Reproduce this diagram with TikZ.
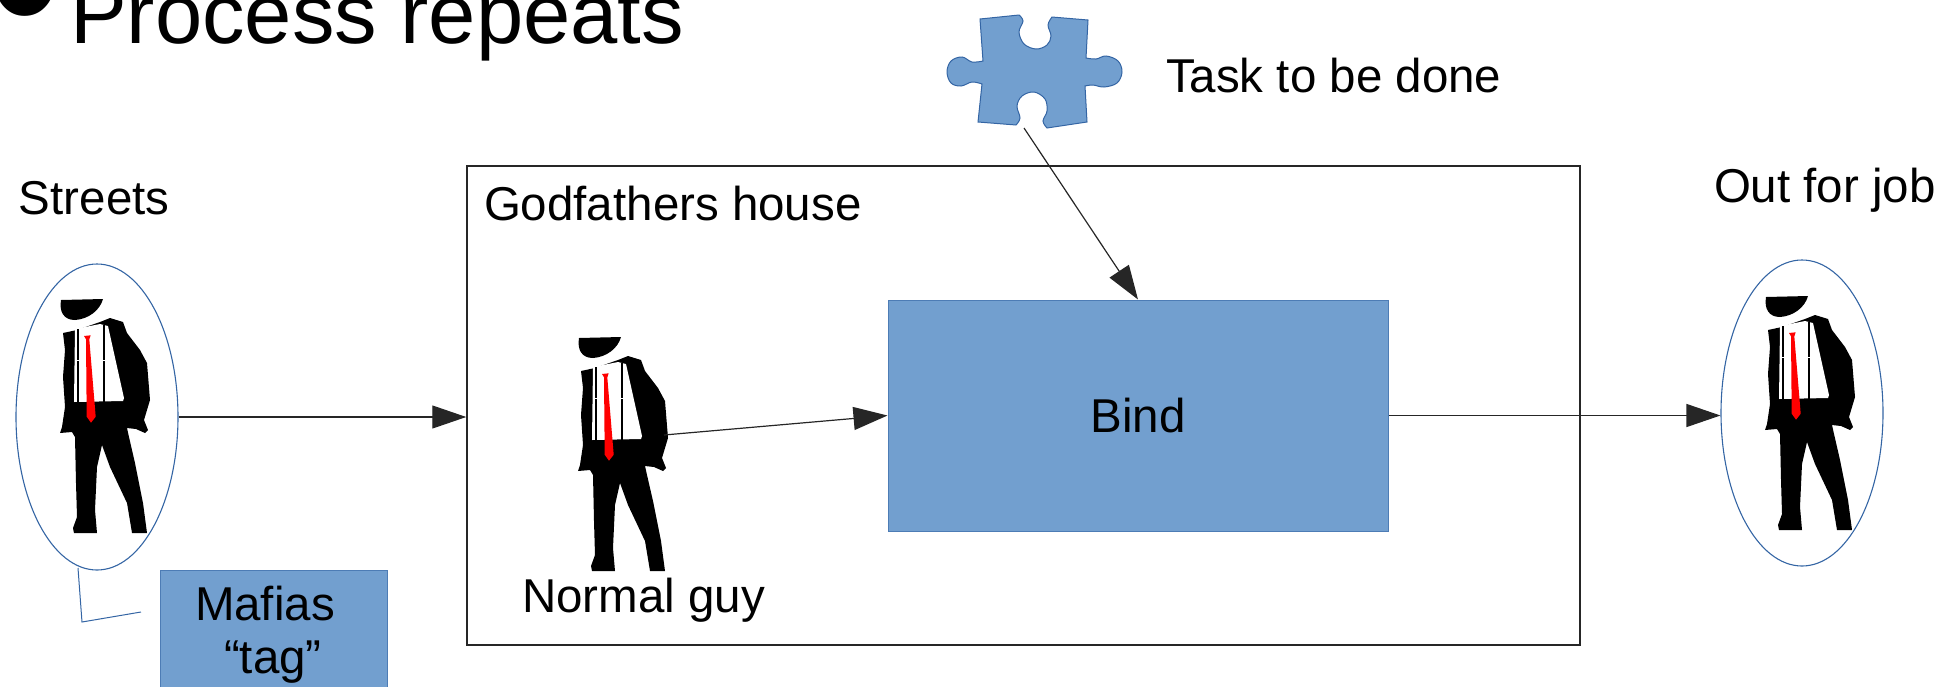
\documentclass[tikz,border=0pt]{standalone}
\usepackage{fontspec}
\setmainfont{Liberation Sans}
\usetikzlibrary{arrows.meta,shapes.geometric,calc}
\definecolor{paleblue}{HTML}{729FCF}
\definecolor{edgeblue}{HTML}{3465A4}
\begin{document}
\begin{tikzpicture}[x=1pt,y=-1pt,
  lbl/.style={font=\fontsize{47.5}{57}\selectfont, inner sep=0pt, outer sep=0pt, anchor=base west},
  conn/.style={line width=1.2pt, draw=black!85, -{Triangle[length=34pt,width=23pt]}},
  blob/.style={ellipse, draw=edgeblue, line width=1.1pt, minimum width=162pt, minimum height=306pt, inner sep=0pt},
  bluebox/.style={rectangle, fill=paleblue, draw=edgeblue!60!paleblue, line width=1pt, inner sep=0pt},
  housebox/.style={rectangle, draw=black!85, line width=1.5pt, inner sep=0pt},
  mafioso/.pic={
    % hat
    \fill[black] (1,0) -- (43,-1) .. controls (40,10) and (29,19) .. (15,20)
      .. controls (4,20) and (-1,12) .. (1,0) -- cycle;
    % suit silhouette
    \fill[black] (3,33) -- (5,50) -- (3,77) -- (5,107) -- (2,127) -- (0,133) -- (12,132)
      -- (15,137) -- (16,183) -- (17,217) -- (13,228) -- (14,233) -- (37,233) -- (35,210)
      -- (37,167) -- (42,145) -- (50,167) -- (67,203) -- (72,233) -- (87,233) -- (83,203)
      -- (75,163) -- (69,137) -- (67,128) -- (76,129) -- (85,133) -- (88,130) -- (84,120)
      -- (90,100) -- (87,63) -- (80,50) -- (67,33) -- (63,22) -- (50,18) -- (40,22)
      -- (17,30) -- cycle;
    % shirt
    \fill[white] (15,29) -- (40,24) -- (48,26) -- (64,98) -- (63,101) -- (14,102) -- cycle;
    % suspenders
    \fill[black] (17.3,29) rectangle (19.3,102);
    \fill[black] (43,25) rectangle (45,102);
    \fill[white] (15,59.5) rectangle (47,61);
    % tie
    \fill[red] (24,36) -- (30.7,35.3) -- (29.3,39.3) -- (35.7,116.7) -- (31,122.7)
      -- (26.7,116.7) -- (26,39.3) -- cycle;
  }
]
\useasboundingbox (0,0) rectangle (1954,686);

% heading
\node[lbl, font=\fontsize{210}{210}\selectfont] (bullet) at (-11,57) {•};
\node[lbl, font=\fontsize{85}{100}\selectfont] (title) at (70,43) {Process repeats};

% places
\node[blob] (streets) at (97,417) {};
\node[blob] (out) at (1802,413) {};
\node[housebox, minimum width=1113pt, minimum height=479pt] (house) at (1023.5,405.5) {};
\node[bluebox, minimum width=500pt, minimum height=231pt,
      font=\fontsize{47.5}{57}\selectfont] (bind) at (1138,415.5) {Bind};
\node[bluebox, minimum width=227pt, minimum height=160pt] (tag) at (273.5,650) {};

% people
\pic at (60,300) {mafioso};
\pic at (578,338) {mafioso};
\pic at (1765,297) {mafioso};

% puzzle piece
\filldraw[fill=paleblue, draw=edgeblue, line width=1pt]
  (980,19) -- plot[smooth, tension=0.6] coordinates {(1019,15) (1023,21) (1019,32) (1024,44) (1036,49) (1047,45) (1051,36) (1048,25) (1052,17)}
  -- (1088,20) -- (1086,58)
  -- plot[smooth, tension=0.6] coordinates {(1086,58) (1096,59) (1106,56) (1118,61) (1122,72) (1117,83) (1104,87) (1093,85) (1085,86)}
  -- (1087,122)
  -- plot[smooth, tension=0.6] coordinates {(1047,128) (1043,121) (1047,111) (1045,99) (1034,92) (1022,96) (1017,106) (1020,118) (1016,125)}
  -- (978,122)
  -- plot[smooth, tension=0.6] coordinates {(982,84) (972,82) (961,86) (951,83) (947,72) (951,61) (962,57) (972,62) (983,61)}
  -- cycle;
\coordinate (piece) at (1024,128);

% labels
\node[lbl] (streetslbl) at (19,214) {Streets};
\node[lbl] (houselbl) at (484,220) {Godfathers house};
\node[lbl] (tasklbl) at (1166,92) {Task to be done};
\node[lbl] (outlbl) at (1714,202) {Out for job};
\node[lbl] (guylbl) at (522,612) {Normal guy};
\node[lbl] (taglbl1) at (195,620) {Mafias};
\node[lbl] (taglbl2) at (224,673) {“tag”};

% connectors
\coordinate (hand) at (664,435);
\coordinate (tagpoint) at (141,612);
\coordinate (tagbend) at (82,622);
\coordinate (tagtip) at (78,568);
\draw[conn] (streets.east) -- (streets.east -| house.west);
\draw[conn] (hand) -- (bind.west);
\draw[conn] (piece) -- (bind.north);
\draw[conn] (bind.east) -- (bind.east -| out.west);
\draw[edgeblue, line width=1pt] (tagpoint) -- (tagbend) -- (tagtip);
\end{tikzpicture}
\end{document}
